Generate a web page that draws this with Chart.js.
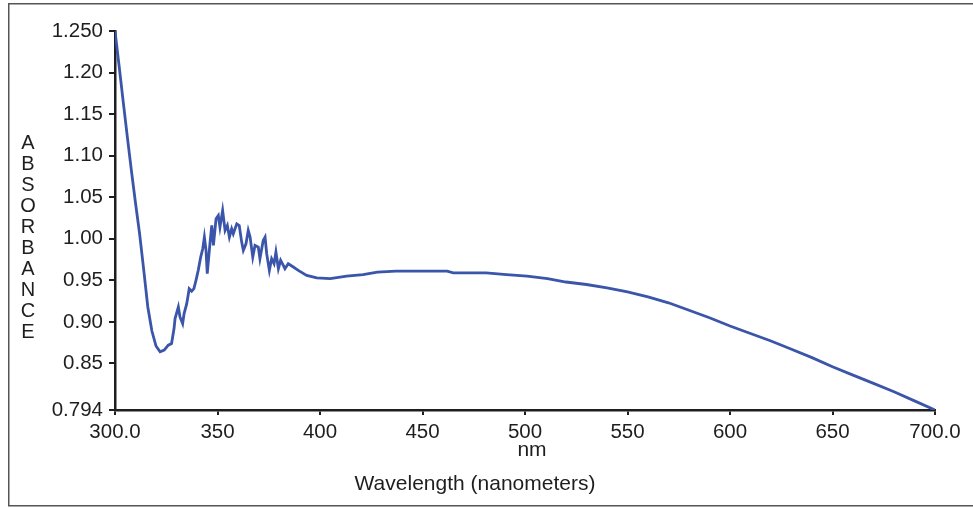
<!DOCTYPE html>
<html>
<head>
<meta charset="utf-8">
<script src="https://cdn.jsdelivr.net/npm/chart.js@4/dist/chart.umd.min.js"></script>
<style>
  html, body { margin: 0; padding: 0; background: #fff; }
  #wrap { width: 973px; height: 508px; }
</style>
</head>
<body>
<div id="wrap"><canvas id="c" width="973" height="508"></canvas></div>
<script>
// wavelength (nm)
const wavelengths = [
  300, 302, 304, 306, 308, 310, 312, 314, 316, 318, 320, 322, 324, 326, 327.6,
  328.8, 329.3, 330.9, 331.7, 333, 333.7, 335, 336.2, 337.4, 338.5, 339.5, 340.6,
  341.8, 342.8, 343.6, 344.4, 345, 346.3, 347.2, 348, 349.3, 350.4, 351.2, 352.5,
  353.7, 354.8, 355.8, 356.9, 357.7, 359.4, 360.6, 361.8, 362.6, 363.9, 365, 365.9,
  367.2, 368.3, 369.9, 370.7, 372.3, 373.2, 374, 375.3, 376.4, 377.6, 378.5, 379.7,
  380.8, 382.1, 382.9, 384.5, 387, 389.4, 393.5, 398.4, 405, 413, 421, 428, 437,
  462, 465, 481, 491, 501, 511, 520, 530, 540, 550, 560, 570, 580, 590, 600, 610,
  620, 630, 640, 650, 660, 670, 680, 690, 700
];
const absorbance = [
  1.250, 1.208, 1.165, 1.123, 1.082, 1.043, 1.006, 0.963, 0.918, 0.889, 0.871, 0.864, 0.866, 0.872, 0.874,
  0.892, 0.904, 0.918, 0.906, 0.898, 0.910, 0.922, 0.940, 0.937, 0.940, 0.950, 0.962,
  0.978, 0.988, 1.002, 0.986, 0.958, 0.994, 1.016, 0.992, 1.024, 1.028, 1.014, 1.034,
  1.010, 1.016, 1.002, 1.012, 1.006, 1.018, 1.016, 0.996, 0.986, 0.994, 1.010, 1.002,
  0.978, 0.992, 0.990, 0.976, 0.998, 1.002, 0.982, 0.962, 0.976, 0.970, 0.984, 0.964,
  0.974, 0.968, 0.964, 0.970, 0.966, 0.962, 0.956, 0.953, 0.952, 0.955, 0.957, 0.960, 0.961,
  0.961, 0.959, 0.959, 0.957, 0.955, 0.952, 0.948, 0.945, 0.941, 0.936, 0.930, 0.923, 0.914, 0.905, 0.895, 0.886,
  0.877, 0.867, 0.857, 0.846, 0.836, 0.826, 0.816, 0.805, 0.794
];

const xTickValues = [300, 350, 400, 450, 500, 550, 600, 650, 700];
const xTickLabels = ['300.0', '350', '400', '450', '500', '550', '600', '650', '700.0'];
const yTickValues = [0.794, 0.85, 0.90, 0.95, 1.00, 1.05, 1.10, 1.15, 1.20, 1.250];
const yTickLabels = ['0.794', '0.85', '0.90', '0.95', '1.00', '1.05', '1.10', '1.15', '1.20', '1.250'];

const yTitle = 'ABSORBANCE';
const unitLabel = 'nm';
const xTitle = 'Wavelength (nanometers)';

const FONT = '"Liberation Sans", Arial, Helvetica, sans-serif';
const INK = '#1e1e1e';

const points = wavelengths.map(function (w, i) { return { x: w, y: absorbance[i] }; });

// frame + the free-standing texts
const decorPlugin = {
  id: 'decor',
  beforeDraw(chart) {
    const ctx = chart.ctx;
    ctx.save();
    ctx.strokeStyle = '#555';
    ctx.lineWidth = 1.5;
    ctx.beginPath();
    ctx.moveTo(990, 3.75);
    ctx.lineTo(8.75, 3.75);
    ctx.lineTo(8.75, 505.75);
    ctx.lineTo(990, 505.75);
    ctx.stroke();
    ctx.restore();
  },
  afterDraw(chart) {
    const ctx = chart.ctx;
    const area = chart.chartArea;
    ctx.save();
    ctx.fillStyle = INK;
    ctx.textAlign = 'center';
    ctx.textBaseline = 'middle';
    ctx.font = '20px ' + FONT;
    const letters = yTitle.split('');
    letters.forEach(function (ch, i) {
      ctx.fillText(ch, 28, 143 + i * 21);
    });
    ctx.font = '21px ' + FONT;
    const mid = (area.left + area.right) / 2;
    ctx.fillText(unitLabel, mid + 7, 450);
    ctx.fillText(xTitle, mid - 50, 484);
    ctx.restore();
  }
};

new Chart(document.getElementById('c'), {
  type: 'scatter',
  data: {
    datasets: [{
      data: points,
      showLine: true,
      borderColor: '#3a55a9',
      borderWidth: 2.8,
      pointRadius: 0,
      tension: 0,
      fill: false
    }]
  },
  options: {
    responsive: false,
    animation: false,
    layout: { padding: { top: 31, right: 38, left: 0, bottom: 0 } },
    plugins: {
      legend: { display: false },
      tooltip: { enabled: false }
    },
    scales: {
      x: {
        type: 'linear',
        min: 300,
        max: 700,
        afterBuildTicks(scale) {
          scale.ticks = xTickValues.map(function (v) { return { value: v }; });
        },
        afterFit(scale) { scale.height = 98; },
        ticks: {
          color: INK,
          font: { family: FONT, size: 20.5 },
          padding: 5,
          maxRotation: 0,
          autoSkip: false,
          callback(value) {
            const i = xTickValues.indexOf(value);
            return i >= 0 ? xTickLabels[i] : '';
          }
        },
        grid: { drawOnChartArea: false, color: INK, lineWidth: 2, tickLength: 5 },
        border: { color: INK, width: 2.5 }
      },
      y: {
        min: 0.794,
        max: 1.25,
        afterBuildTicks(scale) {
          scale.ticks = yTickValues.map(function (v) { return { value: v }; });
        },
        afterFit(scale) { scale.width = 115; },
        ticks: {
          color: INK,
          font: { family: FONT, size: 20.5 },
          padding: 6,
          autoSkip: false,
          callback(value) {
            const i = yTickValues.indexOf(value);
            return i >= 0 ? yTickLabels[i] : '';
          }
        },
        grid: { drawOnChartArea: false, color: INK, lineWidth: 2, tickLength: 6 },
        border: { color: INK, width: 2.5 }
      }
    }
  },
  plugins: [decorPlugin]
});
</script>
</body>
</html>
